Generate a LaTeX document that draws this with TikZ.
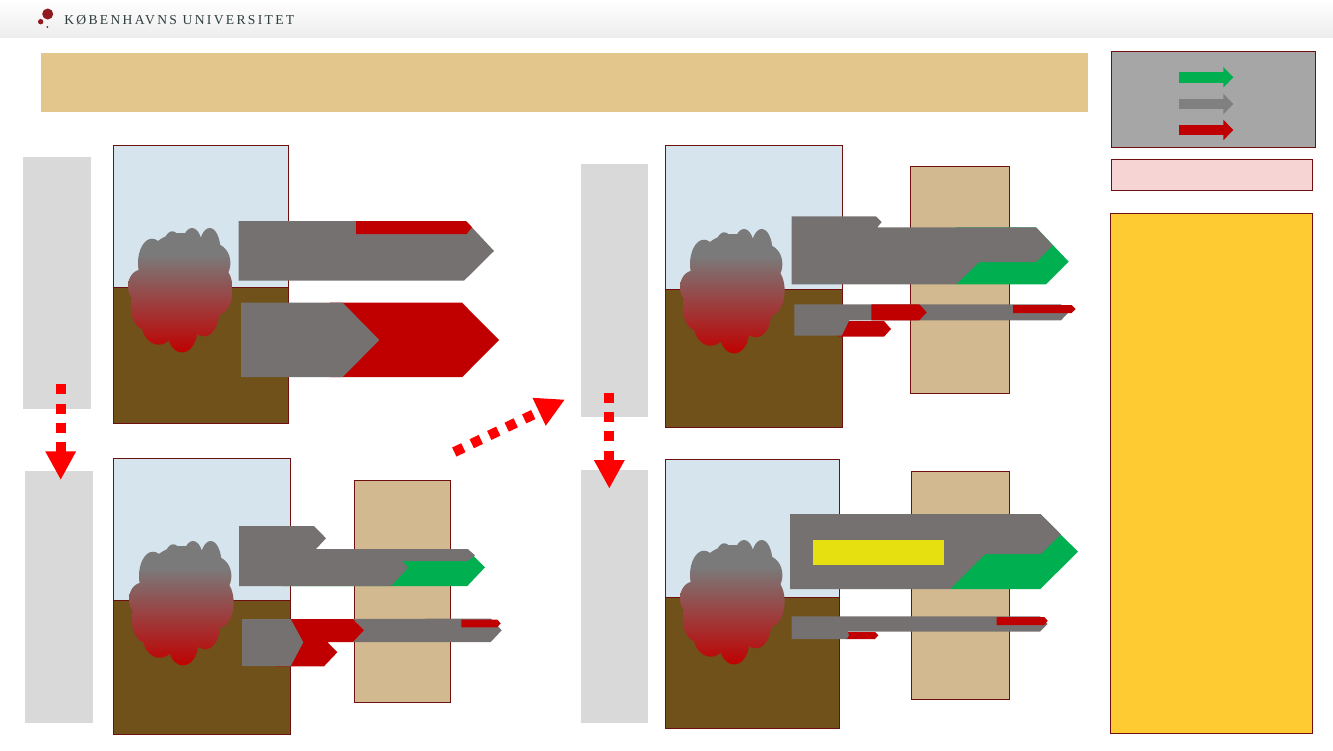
\documentclass[tikz,border=0pt]{standalone}
\usepackage{fontspec}
\usetikzlibrary{arrows.meta}
\newfontfamily\logofont[LetterSpace=17]{Liberation Serif}
\definecolor{skyblue}{HTML}{D6E4ED}
\definecolor{soilbrown}{HTML}{70511A}
\definecolor{woodtan}{HTML}{D2B98F}
\definecolor{edgered}{HTML}{6F1010}
\definecolor{flowgray}{HTML}{767171}
\definecolor{flowred}{HTML}{C00000}
\definecolor{flowgreen}{HTML}{00B050}
\definecolor{barlight}{HTML}{D9D9D9}
\definecolor{blobgray}{HTML}{7A7A7A}
\definecolor{titletan}{HTML}{E3C68C}
\definecolor{legendgray}{HTML}{A6A6A6}
\definecolor{pinkbox}{HTML}{F7D4D4}
\definecolor{notebox}{HTML}{FFCB32}
\definecolor{damageyellow}{HTML}{E6E010}
\definecolor{logored}{HTML}{8F1A20}
\definecolor{logotext}{HTML}{2F3D3D}
\tikzset{
	boxed/.style={draw=edgered, line width=0.75pt},
	sky/.style={boxed, fill=skyblue},
	soil/.style={boxed, fill=soilbrown},
	wood/.style={boxed, fill=woodtan},
	bar/.style={fill=barlight},
	gray flow/.style={fill=flowgray},
	red flow/.style={fill=flowred},
	green flow/.style={fill=flowgreen},
	transition/.style={draw=red, line width=7.5pt, dash pattern=on 7.5pt off 7pt,
		-{Triangle[length=21.5pt, width=21.5pt, fill=red]}},
	legendarrow/.style={line width=7.8pt, -{Triangle[length=7.5pt, width=15pt]}}
}
\newcommand{\blob}[2]{
	\begin{scope}[shift={(#1,#2)}]
		\begin{scope}
			\clip \foreach \cx/\cy/\rx/\ry in {24/35/14/24.3, 44.3/25/10.3/21.7, 64/21.7/10.7/21.7,
				81.7/21.7/10.7/21.7, 86.7/35/15.7/19.3, 13.3/58.3/13.3/16.7, 90/61.7/14.7/25,
				16.7/78.3/14/23.3, 30.7/95/17.3/21.7, 54/101.7/15.3/22.7, 76/85/15/23.3,
				53.3/55/43.3/50} { (\cx,\cy) ellipse [x radius=\rx, y radius=\ry] };
			\fill[blobgray] (-2,-2) rectangle (110,27);
			\shade[top color=blobgray, bottom color=flowred] (-2,27) rectangle (110,125);
		\end{scope}
	\end{scope}
}

\begin{document}
\begin{tikzpicture}[x=0.75pt, y=-0.75pt]
		\useasboundingbox (0,0) rectangle (1333,750);

		% header
		\shade[top color=white, bottom color=black!7] (0,0) rectangle (1333,37);
		\fill[logored] (47.7,14) circle (5.5);
		\fill[logored] (40.7,21.7) circle (2.7);
		\fill[logored] (47.3,27) circle (1);
		\node[anchor=west, inner sep=0pt, text=logotext, font=\logofont\fontsize{10.2}{12}\selectfont]
			(logoname) at (64,20) {KØBENHAVNS UNIVERSITET};

		% title and side boxes
		\fill[titletan] (41,53) rectangle (1088,112);
		\draw[boxed, fill=legendgray] (1111.3,51.7) rectangle (1315.7,147.3);
		\draw[boxed, fill=pinkbox] (1111.3,159.3) rectangle (1312.7,190.3);
		\draw[boxed, fill=notebox] (1110.5,213.5) rectangle (1312.5,733.5);

		% legend
		\coordinate (greenstart) at (1179,77.3);
		\coordinate (greenend) at (1233.3,77.3);
		\coordinate (graystart) at (1179,104);
		\coordinate (grayend) at (1233.3,104);
		\coordinate (redstart) at (1179,130);
		\coordinate (redend) at (1233.3,130);
		\draw[legendarrow, flowgreen] (greenstart) -- (greenend);
		\draw[legendarrow, black!50] (graystart) -- (grayend);
		\draw[legendarrow, flowred] (redstart) -- (redend);

		% light bars
		\fill[bar] (23,157) rectangle (90.5,409);
		\fill[bar] (25,470.5) rectangle (92.5,723);
		\fill[bar] (581,163.5) rectangle (648,417);
		\fill[bar] (581,470) rectangle (648,723);

		% panel top left
		\draw[sky] (113.5,145.5) rectangle (288.5,287);
		\draw[soil] (113.5,287) rectangle (288.5,423.5);
		\blob{128}{228}
		\fill[gray flow] (238.7,221) -- (466,221) -- (494,251) -- (464,280.7) -- (238.7,280.7) -- cycle;
		\fill[red flow] (356,221) -- (466,221) -- (472,227.3) -- (466.7,234) -- (356,234) -- cycle;
		\fill[red flow] (330,302.7) -- (462,302.7) -- (499,340) -- (462.3,377) -- (330,377) -- cycle;
		\fill[gray flow] (241,302.7) -- (342.7,302.7) -- (379.3,340) -- (342.7,377) -- (241,377) -- cycle;

		% panel bottom left
		\draw[sky] (113.5,458.5) rectangle (290.5,600);
		\draw[soil] (113.5,600) rectangle (290.5,734);
		\blob{129}{541}
		\draw[wood] (354.5,480.5) rectangle (450.5,702.5);
		\fill[green flow] (282.7,549) -- (466.7,549) -- (485,567.3) -- (467.3,586) -- (282.7,586) -- cycle;
		\fill[gray flow] (239,526) -- (314,526) -- (326,538.3) -- (316,549) -- (467.7,549) -- (475,555.3)
			-- (467.7,561) -- (401.7,561) -- (408.3,567.3) -- (391,586) -- (239,586) -- cycle;
		\fill[red flow] (275,619) -- (353.3,619) -- (364.3,630.3) -- (353.3,642) -- (327.3,642)
			-- (337.3,652.3) -- (324,666.3) -- (275,666.3) -- cycle;
		\fill[gray flow] (242,619) -- (290.7,619) -- (303.3,642.3) -- (290.7,666) -- (242,666) -- cycle;
		\fill[gray flow] (353.3,619) -- (490.7,618.5) -- (501.7,630.3) -- (490.7,642) -- (353.3,642)
			-- (364.3,630.3) -- cycle;
		\fill[red flow] (461.3,619.7) -- (497.3,619.7) -- (500.7,623.3) -- (497.3,627.3) -- (461.3,627.3) -- cycle;

		% panel top right
		\draw[sky] (665.5,145.5) rectangle (842.5,289);
		\draw[soil] (665.5,289) rectangle (842.5,427);
		\blob{680}{229}
		\draw[wood] (910.5,166.5) rectangle (1009.5,393.5);
		\fill[green flow] (956,227.3) -- (1036,227.3) -- (1068.7,261.7) -- (1046,284.3) -- (956,284.3) -- cycle;
		\fill[gray flow] (791.7,216.3) -- (876,216.3) -- (881.7,222) -- (877.3,227.3) -- (1036,227.3)
			-- (1052.7,245.3) -- (1036,262) -- (979.3,262) -- (956,284.3) -- (791.7,284.3) -- cycle;
		\fill[red flow] (838.3,321) -- (884,321) -- (891,329) -- (884,336.7) -- (838.3,336.7) -- cycle;
		\fill[gray flow] (794.3,304.3) -- (1061,304.3) -- (1068.3,312.7) -- (1061,320.3) -- (849.3,320.3)
			-- (841.7,335.7) -- (794.3,335.7) -- cycle;
		\fill[red flow] (871.3,304.3) -- (919.3,304.3) -- (926.7,312.3) -- (919.3,320.3) -- (871.3,320.3) -- cycle;
		\fill[red flow] (1013,305) -- (1071.7,305) -- (1075.7,309) -- (1071.7,313) -- (1013,313) -- cycle;

		% panel bottom right
		\draw[sky] (665.5,459.5) rectangle (839.5,597);
		\draw[soil] (665.5,597) rectangle (839.5,728.5);
		\blob{680}{540}
		\draw[wood] (911.5,471.5) rectangle (1009.5,699.5);
		\fill[green flow] (950,514) -- (1040,514) -- (1078,551.7) -- (1040.3,589) -- (950,589) -- cycle;
		\fill[gray flow] (790,514) -- (1040.7,514) -- (1061,534.3) -- (1040.7,554) -- (985,554) -- (950,589)
			-- (790,589) -- cycle;
		\fill[damageyellow] (813,540.3) rectangle (943.7,564.7);
		\fill[red flow] (845.7,632) -- (875,632) -- (878.3,635.3) -- (875,639) -- (845.7,639) -- cycle;
		\fill[gray flow] (791.7,616.3) -- (1040,616.3) -- (1047.7,624) -- (1040,631.7) -- (847.7,631.7)
			-- (849,635.3) -- (846.7,639) -- (791.7,639) -- cycle;
		\fill[red flow] (996.7,617) -- (1044.3,617) -- (1047.7,620.7) -- (1044.3,625) -- (996.7,625) -- cycle;

		% transitions
		\coordinate (leftstart) at (60.7,384.3);
		\coordinate (leftend) at (60.7,480);
		\coordinate (midstart) at (609.3,392.7);
		\coordinate (midend) at (609.3,488.7);
		\coordinate (crossstart) at (454.3,452);
		\coordinate (crossend) at (565,399.5);
		\draw[transition] (leftstart) -- (leftend);
		\draw[transition] (midstart) -- (midend);
		\draw[transition] (crossstart) -- (crossend);
\end{tikzpicture}
\end{document}
